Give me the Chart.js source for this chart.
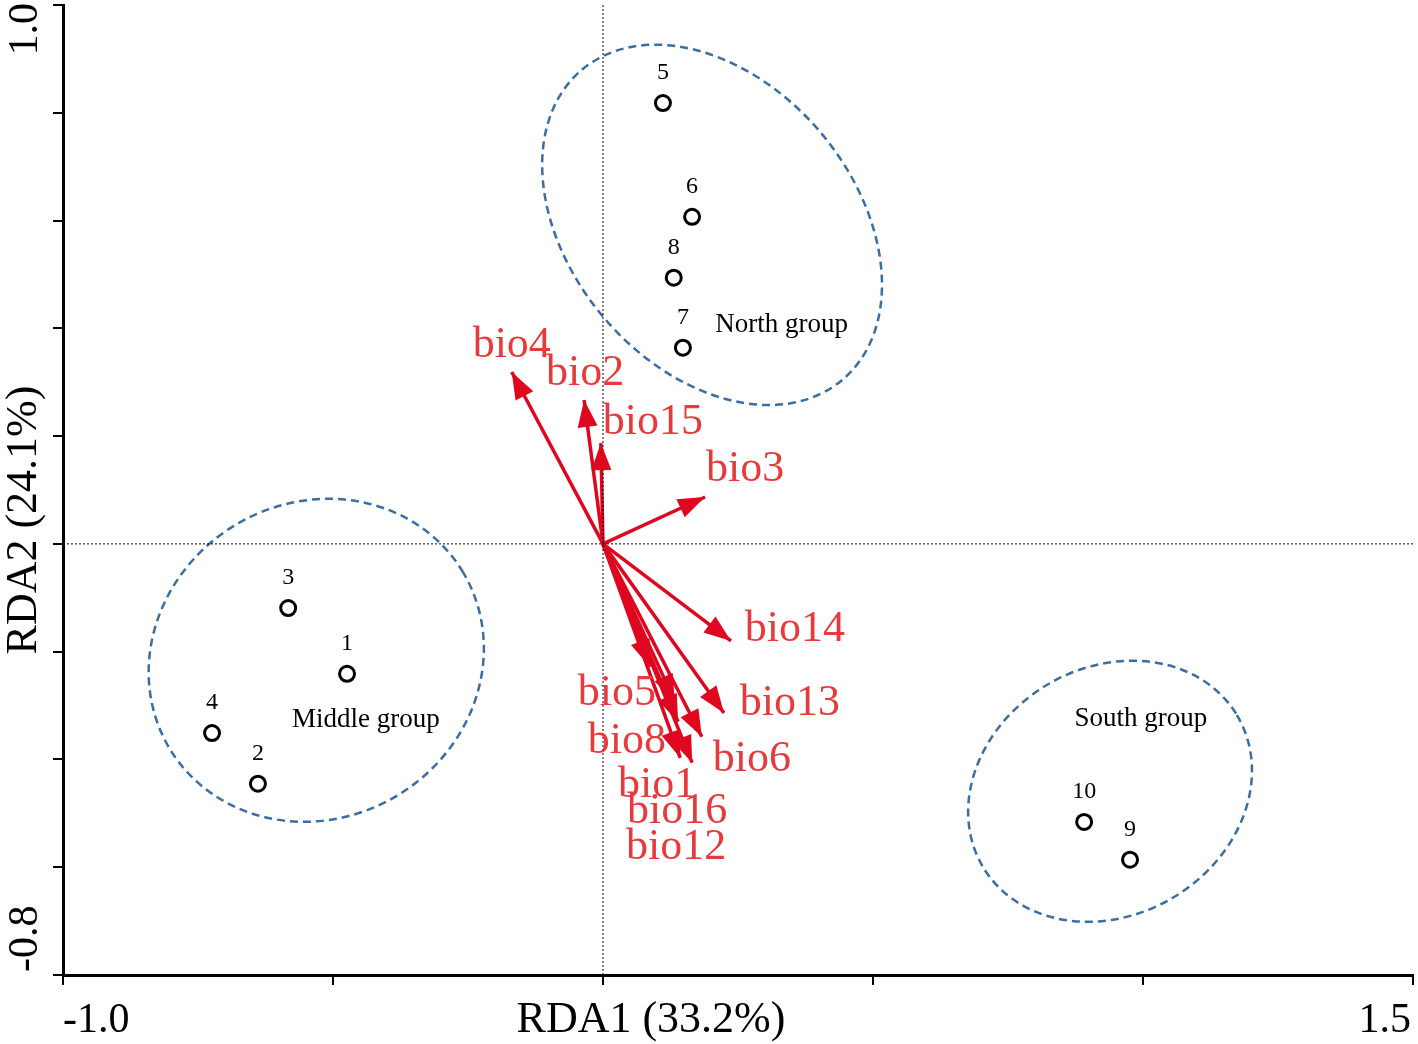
<!DOCTYPE html>
<html>
<head>
<meta charset="utf-8">
<script src="https://cdn.jsdelivr.net/npm/chart.js@4.4.0/dist/chart.umd.min.js"></script>
<style>
  html, body { margin: 0; padding: 0; background: #fff; }
  #wrap { width: 1418px; height: 1044px; }
</style>
</head>
<body>
<div id="wrap"><canvas id="rda"></canvas></div>
<script>
// sites (circles)
const siteNames = ['1', '2', '3', '4', '5', '6', '7', '8', '9', '10'];
const siteRDA1 = [-0.474, -0.639, -0.583, -0.724, 0.111, 0.165, 0.148, 0.131, 0.976, 0.891];
const siteRDA2 = [-0.241, -0.445, -0.119, -0.351, 0.818, 0.607, 0.364, 0.494, -0.586, -0.516];

// environmental vectors
const bioNames = ['bio4', 'bio2', 'bio15', 'bio3', 'bio14', 'bio13', 'bio6', 'bio5', 'bio8', 'bio1', 'bio16', 'bio12'];
const bioRDA1 = [-0.169, -0.035, -0.004, 0.189, 0.237, 0.224, 0.183, 0.087, 0.133, 0.139, 0.143, 0.165];
const bioRDA2 = [0.319, 0.267, 0.187, 0.087, -0.180, -0.314, -0.358, -0.228, -0.293, -0.330, -0.397, -0.406];

// group ellipses (data units)
const groupNames = ['North group', 'Middle group', 'South group'];
const groupCx = [0.202, -0.531, 0.939];
const groupCy = [0.592, -0.216, -0.459];
const groupRa = [0.375, 0.317, 0.274];
const groupRb = [0.264, 0.292, 0.229];
const groupAngle = [50, -31.5, -31];
const groupLabelX = [0.331, -0.439, 0.996];
const groupLabelY = [0.406, -0.327, -0.325];

// axis tick labels
const xTickValues = [-1.0, 1.5];
const xTickLabels = ['-1.0', '1.5'];
const yTickValues = [1.0, -0.8];
const yTickLabels = ['1.0', '-0.8'];

// label offsets in px from arrow tip
const bioLabelDx = [0, 1, 52, 40, 64, 66, 50, -33, -48, -21, -3, -16];
const bioLabelDy = [-27, -27, -21, -28, -11, -10, 23, 27, 40, 64, 54, 85];

const SERIF = '"Liberation Serif", "Times New Roman", serif';
const ARROW = '#e0061f';
const LABEL_RED = '#e63a3c';
const BLUE = '#3a6ea5';

const datasets = [];

// dotted zero lines
datasets.push({
  data: [{ x: 0, y: -0.8 }, { x: 0, y: 1.0 }],
  showLine: true, borderColor: '#000', borderWidth: 1, borderDash: [2, 2],
  pointRadius: 0
});
datasets.push({
  data: [{ x: -1.0, y: 0 }, { x: 1.5, y: 0 }],
  showLine: true, borderColor: '#000', borderWidth: 1, borderDash: [2, 2],
  pointRadius: 0
});

// arrows
bioNames.forEach((name, i) => {
  datasets.push({
    label: name,
    isArrow: true,
    data: [{ x: 0, y: 0 }, { x: bioRDA1[i], y: bioRDA2[i] }],
    showLine: true, borderColor: ARROW, borderWidth: 3.5,
    pointRadius: 0
  });
});

// sites
datasets.push({
  label: 'sites',
  isSites: true,
  data: siteNames.map((n, i) => ({ x: siteRDA1[i], y: siteRDA2[i] })),
  pointRadius: 7.5, pointBorderWidth: 3,
  pointBorderColor: '#000', pointBackgroundColor: 'rgba(255,255,255,0)'
});

const overlay = {
  id: 'overlay',
  beforeDatasetsDraw(chart) {
    const ctx = chart.ctx;
    const xs = chart.scales.x, ys = chart.scales.y;
    ctx.save();
    ctx.strokeStyle = BLUE;
    ctx.lineWidth = 2.5;
    ctx.setLineDash([8, 5]);
    groupNames.forEach((g, i) => {
      const cx = xs.getPixelForValue(groupCx[i]);
      const cy = ys.getPixelForValue(groupCy[i]);
      const ra = xs.getPixelForValue(groupCx[i] + groupRa[i]) - cx;
      const rb = xs.getPixelForValue(groupCx[i] + groupRb[i]) - cx;
      ctx.beginPath();
      ctx.ellipse(cx, cy, ra, rb, groupAngle[i] * Math.PI / 180, 0, Math.PI * 2);
      ctx.stroke();
    });
    ctx.restore();
  },
  afterDatasetsDraw(chart) {
    const ctx = chart.ctx;
    const xs = chart.scales.x, ys = chart.scales.y;
    ctx.save();
    // arrow heads + labels
    chart.data.datasets.forEach((ds, di) => {
      if (!ds.isArrow) return;
      const pts = chart.getDatasetMeta(di).data;
      const x0 = pts[0].x, y0 = pts[0].y, x1 = pts[1].x, y1 = pts[1].y;
      const ang = Math.atan2(y1 - y0, x1 - x0);
      const len = 27, hw = 10;
      ctx.fillStyle = ARROW;
      ctx.beginPath();
      ctx.moveTo(x1, y1);
      ctx.lineTo(x1 - len * Math.cos(ang) + hw * Math.sin(ang), y1 - len * Math.sin(ang) - hw * Math.cos(ang));
      ctx.lineTo(x1 - len * Math.cos(ang) - hw * Math.sin(ang), y1 - len * Math.sin(ang) + hw * Math.cos(ang));
      ctx.closePath();
      ctx.fill();
    });
    ctx.fillStyle = LABEL_RED;
    ctx.font = '44px ' + SERIF;
    ctx.textAlign = 'center';
    ctx.textBaseline = 'middle';
    bioNames.forEach((n, i) => {
      const px = xs.getPixelForValue(bioRDA1[i]) + bioLabelDx[i];
      const py = ys.getPixelForValue(bioRDA2[i]) + bioLabelDy[i];
      ctx.fillText(n, px, py);
    });
    // site numbers
    ctx.fillStyle = '#000';
    ctx.font = '24px ' + SERIF;
    siteNames.forEach((n, i) => {
      ctx.fillText(n, xs.getPixelForValue(siteRDA1[i]), ys.getPixelForValue(siteRDA2[i]) - 30);
    });
    // group labels
    ctx.font = '27px ' + SERIF;
    groupNames.forEach((g, i) => {
      ctx.fillText(g, xs.getPixelForValue(groupLabelX[i]), ys.getPixelForValue(groupLabelY[i]));
    });
    ctx.restore();
  },
  afterDraw(chart) {
    const ctx = chart.ctx;
    const xs = chart.scales.x, ys = chart.scales.y;
    const area = chart.chartArea;
    ctx.save();
    ctx.fillStyle = '#000';
    ctx.textBaseline = 'middle';
    // x tick labels
    ctx.font = '42px ' + SERIF;
    xTickValues.forEach((v, i) => {
      ctx.textAlign = i === 0 ? 'left' : 'right';
      ctx.fillText(xTickLabels[i], xs.getPixelForValue(v) + (i === 0 ? 0 : -2), area.bottom + 46);
    });
    // y tick labels (rotated)
    yTickValues.forEach((v, i) => {
      ctx.save();
      ctx.translate(26, ys.getPixelForValue(v) + (i === 0 ? -2 : -3));
      ctx.rotate(-Math.PI / 2);
      ctx.textAlign = i === 0 ? 'right' : 'left';
      ctx.fillText(yTickLabels[i], 0, 0);
      ctx.restore();
    });
    // axis titles
    ctx.font = '44px ' + SERIF;
    ctx.textAlign = 'center';
    ctx.fillText('RDA1 (33.2%)', 651, area.bottom + 45);
    ctx.save();
    ctx.translate(24, 520);
    ctx.rotate(-Math.PI / 2);
    ctx.fillText('RDA2 (24.1%)', 0, 0);
    ctx.restore();
    ctx.restore();
  }
};

new Chart(document.getElementById('rda'), {
  type: 'scatter',
  data: { datasets },
  options: {
    responsive: true,
    maintainAspectRatio: false,
    animation: false,
    layout: { autoPadding: false, padding: { top: 5, right: 5, left: 0, bottom: 0 } },
    plugins: { legend: { display: false }, tooltip: { enabled: false } },
    scales: {
      x: {
        type: 'linear', min: -1.0, max: 1.5,
        ticks: { stepSize: 0.5, display: false },
        grid: { display: true, drawOnChartArea: false, drawTicks: true, tickLength: 10, tickWidth: 2, tickColor: '#000', color: '#000', lineWidth: 2 },
        border: { display: true, color: '#000', width: 3 },
        afterFit(scale) { scale.height = 69; }
      },
      y: {
        type: 'linear', min: -0.8, max: 1.0,
        ticks: { stepSize: 0.2, display: false },
        grid: { display: true, drawOnChartArea: false, drawTicks: true, tickLength: 10, tickWidth: 2, tickColor: '#000', color: '#000', lineWidth: 2 },
        border: { display: true, color: '#000', width: 3 },
        afterFit(scale) { scale.width = 63; }
      }
    }
  },
  plugins: [overlay]
});
</script>
</body>
</html>
